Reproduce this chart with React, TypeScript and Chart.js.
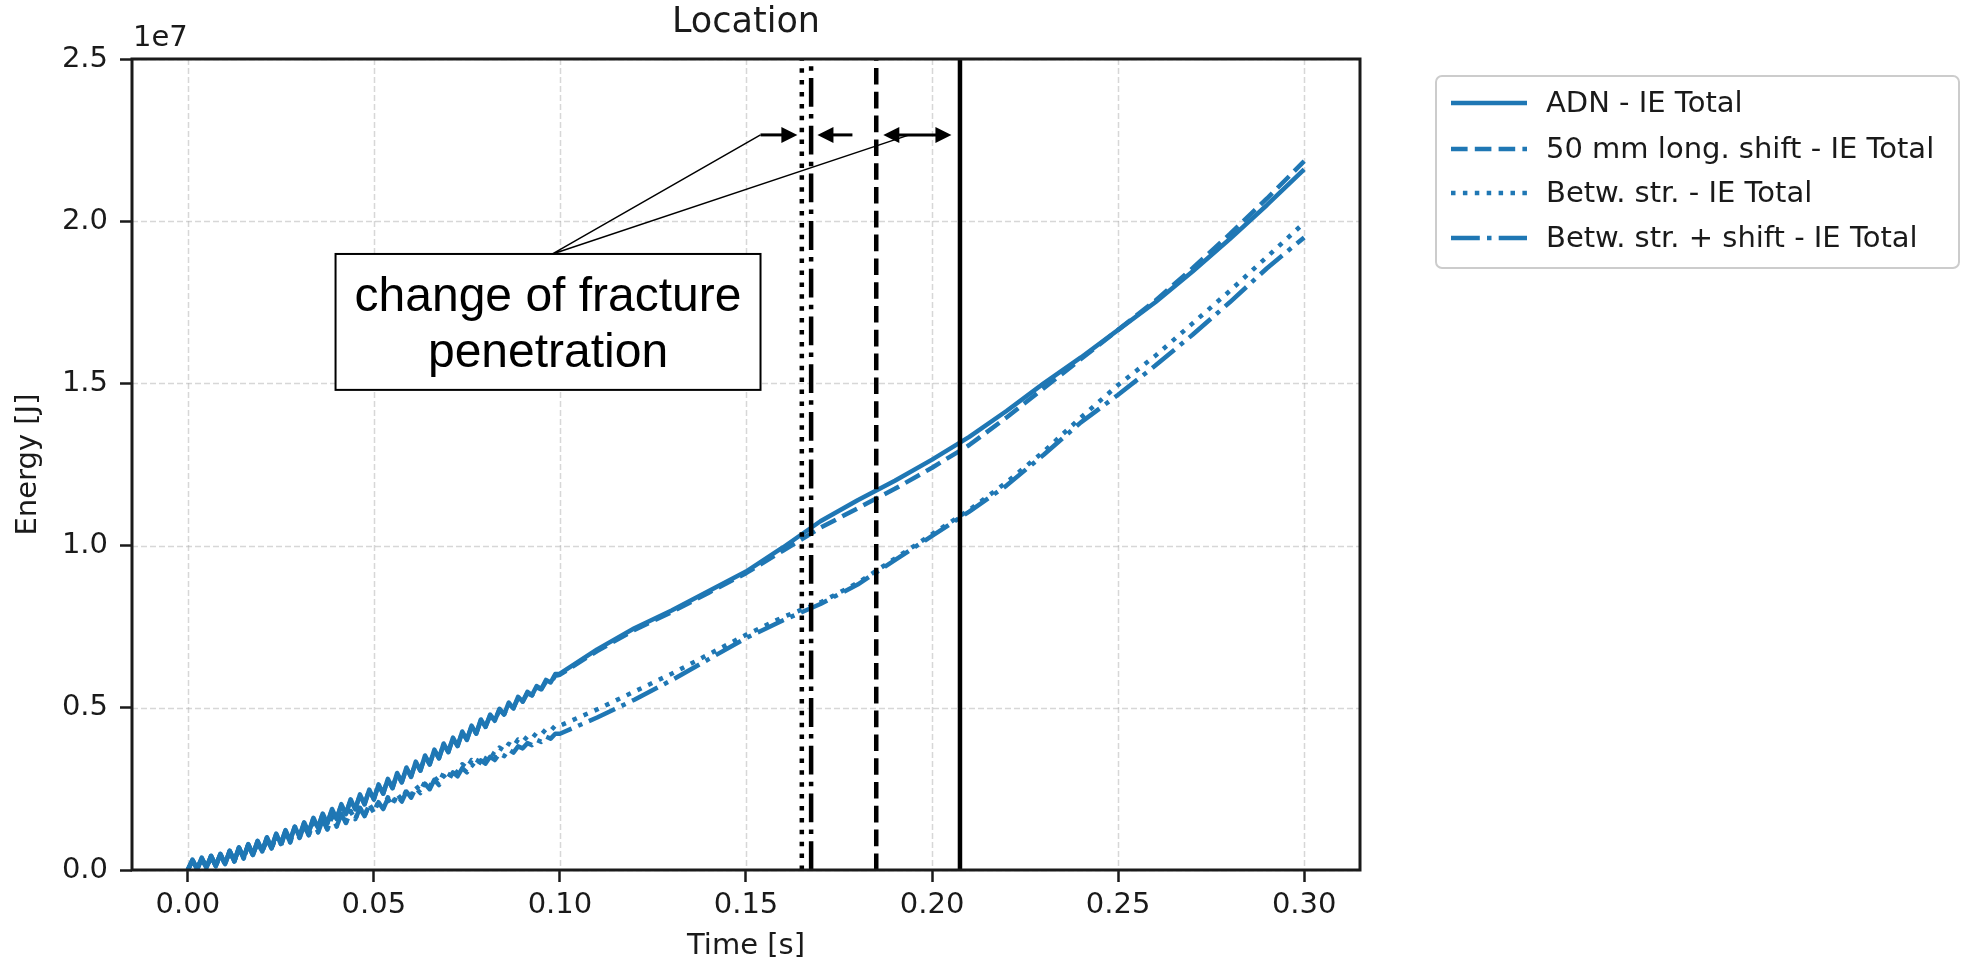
import React, { useEffect, useRef } from "react";
import { Chart, registerables } from "chart.js";

Chart.register(...registerables);

// ---------- data ----------
// time in milliseconds
const timeMs = [
  0, 1.25, 2.5, 3.75, 5, 6.25, 7.5, 8.75, 10, 11.25, 12.5, 13.75, 15, 16.25, 17.5, 18.75,
  20, 21.25, 22.5, 23.75, 25, 26.25, 27.5, 28.75, 30, 31.25, 32.5, 33.75, 35, 36.25, 37.5, 38.75,
  40, 41.25, 42.5, 43.75, 45, 46.25, 47.5, 48.75, 50, 51.25, 52.5, 53.75, 55, 56.25, 57.5, 58.75,
  60, 61.25, 62.5, 63.75, 65, 66.25, 67.5, 68.75, 70, 71.25, 72.5, 73.75, 75, 76.25, 77.5, 78.75,
  80, 81.25, 82.5, 83.75, 85, 86.25, 87.5, 88.75, 90, 91.25, 92.5, 93.75, 95, 96.25, 97.5, 98.75,
  100, 110, 120, 130, 140, 150, 160, 170, 180, 190, 200, 210, 220, 230, 240, 250, 260, 270, 280, 290, 300,
];

// energies in MJ (1e6 J)
const adnIE = [
  0.00, 0.32, 0.02, 0.38, 0.06, 0.44, 0.12, 0.50,
  0.18, 0.60, 0.27, 0.70, 0.37, 0.80, 0.47, 0.90,
  0.57, 1.01, 0.68, 1.12, 0.80, 1.23, 0.91, 1.34,
  1.02, 1.47, 1.16, 1.61, 1.30, 1.74, 1.43, 1.88,
  1.57, 2.03, 1.72, 2.18, 1.87, 2.33, 2.02, 2.48,
  2.17, 2.64, 2.35, 2.81, 2.52, 2.99, 2.70, 3.16,
  2.87, 3.34, 3.06, 3.53, 3.25, 3.71, 3.44, 3.90,
  3.63, 4.08, 3.82, 4.27, 4.01, 4.45, 4.20, 4.64,
  4.41, 4.79, 4.60, 4.97, 4.79, 5.16, 4.98, 5.34,
  5.19, 5.49, 5.39, 5.67, 5.58, 5.86, 5.78, 6.04,
  6.05,
  6.80, 7.45, 8.00, 8.60, 9.20, 9.95, 10.75, 11.40, 12.00, 12.65,
  13.35, 14.15, 15.00, 15.80, 16.65, 17.50, 18.45, 19.45, 20.50, 21.60,
];

const shiftIE = [
  0.00, 0.30, 0.03, 0.36, 0.07, 0.43, 0.13, 0.49,
  0.19, 0.58, 0.28, 0.69, 0.38, 0.79, 0.48, 0.89,
  0.58, 0.99, 0.69, 1.10, 0.81, 1.21, 0.92, 1.33,
  1.04, 1.45, 1.17, 1.59, 1.31, 1.73, 1.45, 1.86,
  1.59, 2.01, 1.74, 2.16, 1.89, 2.31, 2.04, 2.46,
  2.19, 2.62, 2.36, 2.79, 2.53, 2.96, 2.71, 3.13,
  2.88, 3.31, 3.07, 3.50, 3.26, 3.68, 3.45, 3.87,
  3.64, 4.05, 3.83, 4.24, 4.02, 4.42, 4.21, 4.61,
  4.42, 4.76, 4.61, 4.94, 4.80, 5.12, 4.99, 5.30,
  5.19, 5.45, 5.38, 5.63, 5.57, 5.81, 5.76, 5.99,
  6.02,
  6.75, 7.40, 7.95, 8.55, 9.15, 9.85, 10.55, 11.15, 11.75, 12.40,
  13.10, 13.95, 14.85, 15.75, 16.65, 17.55, 18.55, 19.60, 20.70, 21.85,
];

const betwIE = [
  0.00, 0.31, 0.02, 0.37, 0.06, 0.43, 0.11, 0.49,
  0.17, 0.58, 0.26, 0.68, 0.35, 0.78, 0.45, 0.87,
  0.55, 0.97, 0.65, 1.07, 0.75, 1.17, 0.85, 1.27,
  0.99, 1.38, 1.08, 1.47, 1.17, 1.56, 1.26, 1.64,
  1.35, 1.73, 1.46, 1.82, 1.57, 1.92, 1.67, 2.02,
  1.80, 2.12, 1.91, 2.24, 2.04, 2.35, 2.16, 2.46,
  2.28, 2.60, 2.43, 2.73, 2.57, 2.86, 2.70, 2.99,
  2.86, 3.12, 3.00, 3.26, 3.14, 3.39, 3.27, 3.53,
  3.43, 3.64, 3.55, 3.77, 3.68, 3.89, 3.80, 4.02,
  3.95, 4.12, 4.06, 4.23, 4.18, 4.34, 4.29, 4.45,
  4.45,
  4.95, 5.50, 6.05, 6.65, 7.25, 7.80, 8.25, 8.85, 9.60, 10.35,
  11.10, 11.95, 12.90, 13.95, 14.95, 15.85, 16.85, 17.85, 18.90, 19.95,
];

const betwShiftIE = [
  0.00, 0.30, 0.03, 0.36, 0.07, 0.42, 0.12, 0.48,
  0.18, 0.57, 0.27, 0.67, 0.36, 0.77, 0.46, 0.86,
  0.56, 0.96, 0.66, 1.06, 0.76, 1.16, 0.86, 1.26,
  0.98, 1.37, 1.07, 1.46, 1.16, 1.55, 1.25, 1.63,
  1.34, 1.72, 1.45, 1.81, 1.56, 1.91, 1.66, 2.01,
  1.77, 2.09, 1.88, 2.20, 2.00, 2.31, 2.11, 2.42,
  2.23, 2.53, 2.37, 2.66, 2.49, 2.78, 2.62, 2.90,
  2.76, 3.01, 2.89, 3.14, 3.01, 3.26, 3.14, 3.38,
  3.28, 3.49, 3.39, 3.60, 3.51, 3.71, 3.62, 3.81,
  3.75, 3.91, 3.85, 4.01, 3.95, 4.11, 4.05, 4.20,
  4.20,
  4.70, 5.25, 5.85, 6.50, 7.15, 7.70, 8.20, 8.80, 9.55, 10.30,
  11.05, 11.85, 12.80, 13.80, 14.65, 15.55, 16.50, 17.50, 18.55, 19.50,
];

const seriesLabels = [
  "ADN - IE Total",
  "50 mm long. shift - IE Total",
  "Betw. str. - IE Total",
  "Betw. str. + shift - IE Total",
];

// fracture location times [s]: Betw. str. (dotted), Betw.+shift (dash-dot), shift (dashed), ADN (solid)
const fractureTimes = [0.165, 0.1675, 0.185, 0.2075];

const xTicks = [0, 0.05, 0.1, 0.15, 0.2, 0.25, 0.3];
const yTicks = [0, 5e6, 1e7, 1.5e7, 2e7, 2.5e7];

const titleText = "Location";
const xTitle = "Time [s]";
const yTitle = "Energy [J]";
const offsetText = "1e7";
const annotationLines = ["change of fracture", "penetration"];

// ---------- styles ----------
const BLUE = "#1f77b4";
const LW = 4.5;
const DASHES: number[][] = [
  [],
  [16.6, 7.2],
  [4.5, 7.4],
  [28.8, 7.2, 4.5, 7.2],
];
// styles for the vertical lines, in fractureTimes order
const VDASHES: number[][] = [DASHES[2], DASHES[3], DASHES[1], DASHES[0]];
const FONT = '"DejaVu Sans", "Liberation Sans", sans-serif';

function buildPoints(vals: number[]) {
  return timeMs.map((t, i) => ({ x: t / 1000, y: vals[i] * 1e6 }));
}

function arrowHead(ctx: CanvasRenderingContext2D, tipX: number, tipY: number, dir: number) {
  const len = 16;
  const hw = 8;
  ctx.beginPath();
  ctx.moveTo(tipX, tipY);
  ctx.lineTo(tipX - dir * len, tipY - hw);
  ctx.lineTo(tipX - dir * len, tipY + hw);
  ctx.closePath();
  ctx.fill();
}

const overlay = {
  id: "overlay",
  beforeDatasetsDraw(chart: any) {
    const { ctx, chartArea: a, scales } = chart;
    const x = scales.x;
    const y = scales.y;
    ctx.save();
    ctx.strokeStyle = "rgba(176,176,176,0.5)";
    ctx.lineWidth = 1.5;
    ctx.setLineDash([6, 3]);
    xTicks.forEach((v) => {
      const px = Math.round(x.getPixelForValue(v)) + 0.5;
      ctx.beginPath();
      ctx.moveTo(px, a.top);
      ctx.lineTo(px, a.bottom);
      ctx.stroke();
    });
    yTicks.forEach((v) => {
      const py = Math.round(y.getPixelForValue(v)) + 0.5;
      ctx.beginPath();
      ctx.moveTo(a.left, py);
      ctx.lineTo(a.right, py);
      ctx.stroke();
    });
    ctx.restore();
  },
  afterDatasetsDraw(chart: any) {
    const { ctx, chartArea: a, scales } = chart;
    const x = scales.x;
    const y = scales.y;
    const X = (v: number) => x.getPixelForValue(v);
    const Y = (v: number) => y.getPixelForValue(v);
    ctx.save();

    // frame
    ctx.strokeStyle = "#1a1a1a";
    ctx.lineWidth = 3;
    ctx.setLineDash([]);
    ctx.strokeRect(a.left, a.top, a.right - a.left, a.bottom - a.top);

    // annotation box
    const bx0 = X(0.0397), bx1 = X(0.1539);
    const by0 = Y(18.99e6), by1 = Y(14.8e6);
    ctx.fillStyle = "#ffffff";
    ctx.fillRect(bx0, by0, bx1 - bx0, by1 - by0);
    ctx.strokeStyle = "#000";
    ctx.lineWidth = 2;
    ctx.strokeRect(bx0, by0, bx1 - bx0, by1 - by0);
    ctx.fillStyle = "#000";
    ctx.font = '48px "Liberation Sans", Arial, sans-serif';
    ctx.textAlign = "center";
    ctx.textBaseline = "middle";
    const cx = (bx0 + bx1) / 2;
    ctx.fillText(annotationLines[0], cx, by0 + 44);
    ctx.fillText(annotationLines[1], cx, by0 + 100);

    // leader lines
    const apexX = X(0.098), apexY = by0;
    const arrowY = Y(22.66e6);
    ctx.lineWidth = 1.5;
    ctx.beginPath();
    ctx.moveTo(apexX, apexY);
    ctx.lineTo(X(0.1539), arrowY);
    ctx.moveTo(apexX, apexY);
    ctx.lineTo(X(0.1939), arrowY);
    ctx.stroke();

    // arrows
    ctx.lineWidth = 3;
    const a1s = X(0.1539), a1t = X(0.1638);
    ctx.beginPath();
    ctx.moveTo(a1s, arrowY);
    ctx.lineTo(a1t - 12, arrowY);
    ctx.stroke();
    arrowHead(ctx, a1t, arrowY, 1);
    const a2s = X(0.1786), a2t = X(0.1692);
    ctx.beginPath();
    ctx.moveTo(a2s, arrowY);
    ctx.lineTo(a2t + 12, arrowY);
    ctx.stroke();
    arrowHead(ctx, a2t, arrowY, -1);
    const d0 = X(0.1869), d1 = X(0.2052);
    ctx.beginPath();
    ctx.moveTo(d0 + 12, arrowY);
    ctx.lineTo(d1 - 12, arrowY);
    ctx.stroke();
    arrowHead(ctx, d0, arrowY, -1);
    arrowHead(ctx, d1, arrowY, 1);

    // texts
    ctx.fillStyle = "#1a1a1a";
    ctx.font = `35px ${FONT}`;
    ctx.textAlign = "center";
    ctx.textBaseline = "middle";
    ctx.fillText(titleText, (a.left + a.right) / 2, 23);

    ctx.font = `29px ${FONT}`;
    ctx.fillText(xTitle, (a.left + a.right) / 2, 946);
    ctx.save();
    ctx.translate(28, (a.top + a.bottom) / 2);
    ctx.rotate(-Math.PI / 2);
    ctx.fillText(yTitle, 0, 0);
    ctx.restore();

    ctx.textAlign = "left";
    ctx.fillText(offsetText, a.left + 1, 38);

    // legend
    const lx0 = 1436, lx1 = 1959, ly0 = 76, ly1 = 268;
    ctx.fillStyle = "#ffffff";
    ctx.strokeStyle = "#cccccc";
    ctx.lineWidth = 2;
    ctx.beginPath();
    (ctx as any).roundRect(lx0, ly0, lx1 - lx0, ly1 - ly0, 6);
    ctx.fill();
    ctx.stroke();
    const rows = [103, 149, 193, 238];
    seriesLabels.forEach((lab, i) => {
      ctx.strokeStyle = BLUE;
      ctx.lineWidth = LW;
      ctx.setLineDash(DASHES[i]);
      ctx.beginPath();
      ctx.moveTo(1451, rows[i]);
      ctx.lineTo(1527, rows[i]);
      ctx.stroke();
      ctx.setLineDash([]);
      ctx.fillStyle = "#1a1a1a";
      ctx.font = `29px ${FONT}`;
      ctx.textAlign = "left";
      ctx.textBaseline = "middle";
      ctx.fillText(lab, 1546, rows[i] + 1);
    });

    ctx.restore();
  },
};

export default function App() {
  const canvasRef = useRef<HTMLCanvasElement | null>(null);

  useEffect(() => {
    if (!canvasRef.current) return;
    const series = [adnIE, shiftIE, betwIE, betwShiftIE];
    const vlineSets = fractureTimes.map((t, i) => ({
      label: `vline${i}`,
      data: [
        { x: t, y: yTicks[0] },
        { x: t, y: yTicks[yTicks.length - 1] },
      ],
      borderColor: "#000000",
      borderWidth: LW,
      borderDash: VDASHES[i],
      borderCapStyle: "butt",
      pointRadius: 0,
      fill: false,
    }));
    const seriesSets = series.map((vals, i) => ({
      label: seriesLabels[i],
      data: buildPoints(vals),
      borderColor: BLUE,
      borderWidth: LW,
      borderDash: DASHES[i],
      borderCapStyle: "butt",
      borderJoinStyle: "round",
      pointRadius: 0,
      fill: false,
    }));

    const tickFont = { family: FONT, size: 29 };
    const chart = new Chart(canvasRef.current, {
      type: "line",
      data: { datasets: [...vlineSets, ...seriesSets] as any },
      plugins: [overlay as any],
      options: {
        responsive: false,
        animation: false,
        devicePixelRatio: 1,
        layout: { padding: { left: 0, top: 59, right: 619, bottom: 0 } },
        elements: { line: { tension: 0 }, point: { radius: 0 } },
        plugins: {
          legend: { display: false },
          tooltip: { enabled: false },
          title: { display: false },
        },
        scales: {
          x: {
            type: "linear",
            min: -0.015,
            max: 0.315,
            afterBuildTicks: (s: any) => {
              s.ticks = xTicks.map((v) => ({ value: v }));
            },
            afterFit: (s: any) => {
              s.height = 97;
            },
            border: { display: false },
            grid: {
              drawOnChartArea: false,
              drawTicks: true,
              tickLength: 12,
              tickWidth: 2.5,
              tickColor: "#1a1a1a",
              color: "rgba(0,0,0,0)",
            },
            ticks: {
              autoSkip: false,
              maxRotation: 0,
              padding: 6,
              color: "#1a1a1a",
              font: tickFont,
              callback: (v: any) => Number(v).toFixed(2),
            },
          },
          y: {
            type: "linear",
            min: 0,
            max: 2.5e7,
            afterBuildTicks: (s: any) => {
              s.ticks = yTicks.map((v) => ({ value: v }));
            },
            afterFit: (s: any) => {
              s.width = 132;
            },
            border: { display: false },
            grid: {
              drawOnChartArea: false,
              drawTicks: true,
              tickLength: 12,
              tickWidth: 2.5,
              tickColor: "#1a1a1a",
              color: "rgba(0,0,0,0)",
            },
            ticks: {
              autoSkip: false,
              padding: 12,
              color: "#1a1a1a",
              font: tickFont,
              callback: (v: any) => (Number(v) / 1e7).toFixed(1),
            },
          },
        },
      } as any,
    });
    return () => chart.destroy();
  }, []);

  return (
    <div
      style={{
        position: "absolute",
        left: 0,
        top: 0,
        width: 1979,
        height: 967,
        background: "#ffffff",
      }}
    >
      <canvas
        ref={canvasRef}
        width={1979}
        height={967}
        style={{ display: "block", width: 1979, height: 967 }}
      />
    </div>
  );
}
